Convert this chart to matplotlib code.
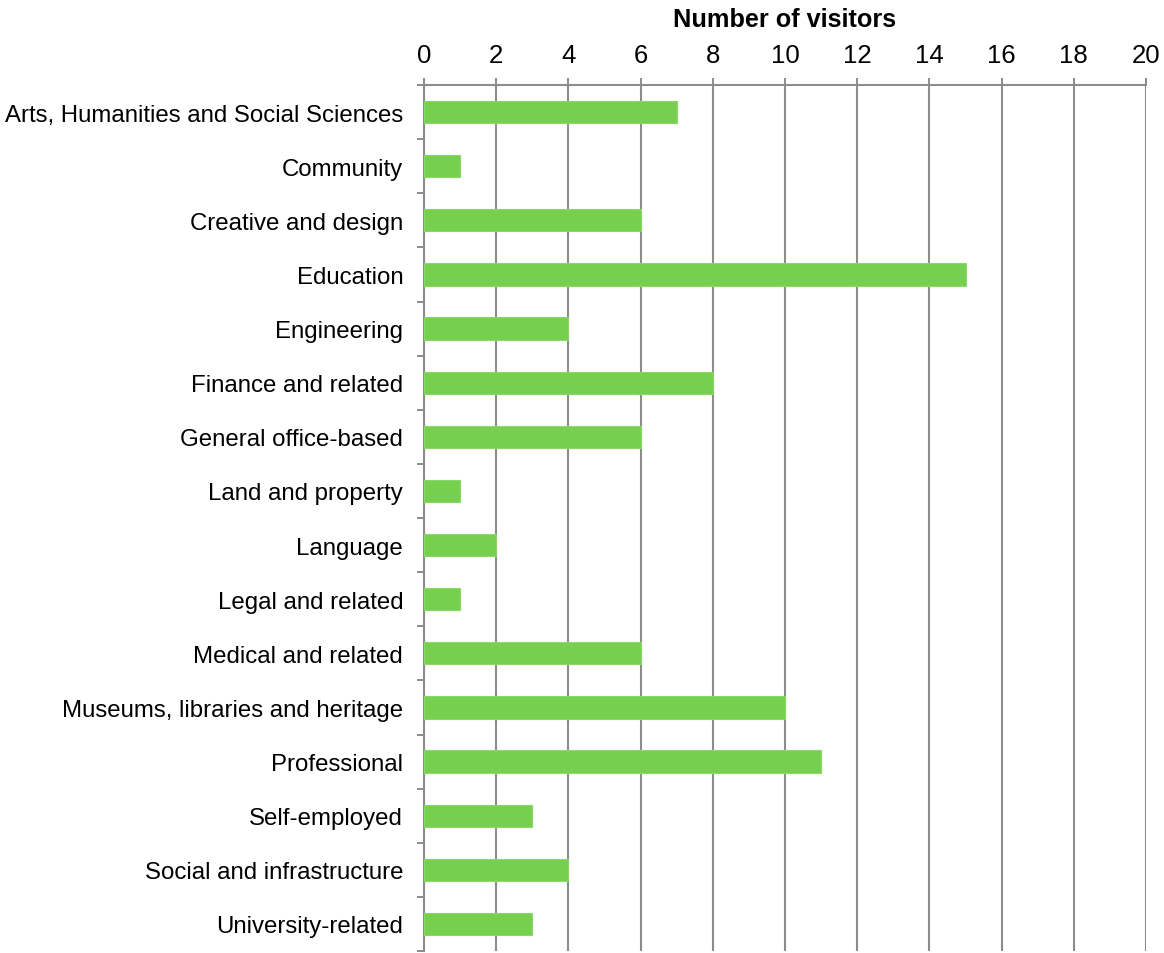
import matplotlib
matplotlib.use("Agg")
import matplotlib.pyplot as plt
import numpy as np

plt.rcParams['font.family'] = ['Liberation Sans', 'DejaVu Sans']

categories = [
    "Arts, Humanities and Social Sciences",
    "Community",
    "Creative and design",
    "Education",
    "Engineering",
    "Finance and related",
    "General office-based",
    "Land and property",
    "Language",
    "Legal and related",
    "Medical and related",
    "Museums, libraries and heritage",
    "Professional",
    "Self-employed",
    "Social and infrastructure",
    "University-related",
]
visitors = [7, 1, 6, 15, 4, 8, 6, 1, 2, 1, 6, 10, 11, 3, 4, 3]
x_ticks = list(range(0, 21, 2))

grey = '#8c8c8c'
bar_color = '#77cf4f'

fig = plt.figure(figsize=(11.64, 9.54), dpi=100)
ax = fig.add_axes([424 / 1164, 2 / 954, (1146 - 424) / 1164, (952 - 86) / 954])

y = np.arange(len(categories))
ax.barh(y, visitors, height=0.41, color=bar_color, edgecolor='#8ad86a',
        linewidth=0.8, zorder=3)

ax.set_ylim(len(categories) - 0.5, -0.5)
ax.set_xlim(0, 20)

ax.xaxis.tick_top()
ax.xaxis.set_label_position('top')
ax.set_xticks(x_ticks)
ax.set_xticklabels([str(t) for t in x_ticks], fontsize=18.5)
ax.tick_params(axis='x', which='major', direction='out', length=5,
               width=1.4, color=grey, pad=8)
ax.set_xlabel("Number of visitors", fontsize=18.2, fontweight='bold', labelpad=12)

ax.set_yticks(y)
ax.set_yticklabels(categories, fontsize=17.3)
ax.tick_params(axis='y', which='major', length=0, pad=15)
ax.set_yticks(np.arange(-0.5, len(categories) + 0.5, 1), minor=True)
ax.tick_params(axis='y', which='minor', direction='out', length=5,
               width=1.4, color=grey)

ax.grid(axis='x', color=grey, linewidth=1.5, zorder=0)
ax.set_axisbelow(True)

for side in ['right', 'bottom']:
    ax.spines[side].set_visible(False)
for side in ['top', 'left']:
    ax.spines[side].set_color(grey)
    ax.spines[side].set_linewidth(1.5)

fig.savefig("out.png", dpi=100)
